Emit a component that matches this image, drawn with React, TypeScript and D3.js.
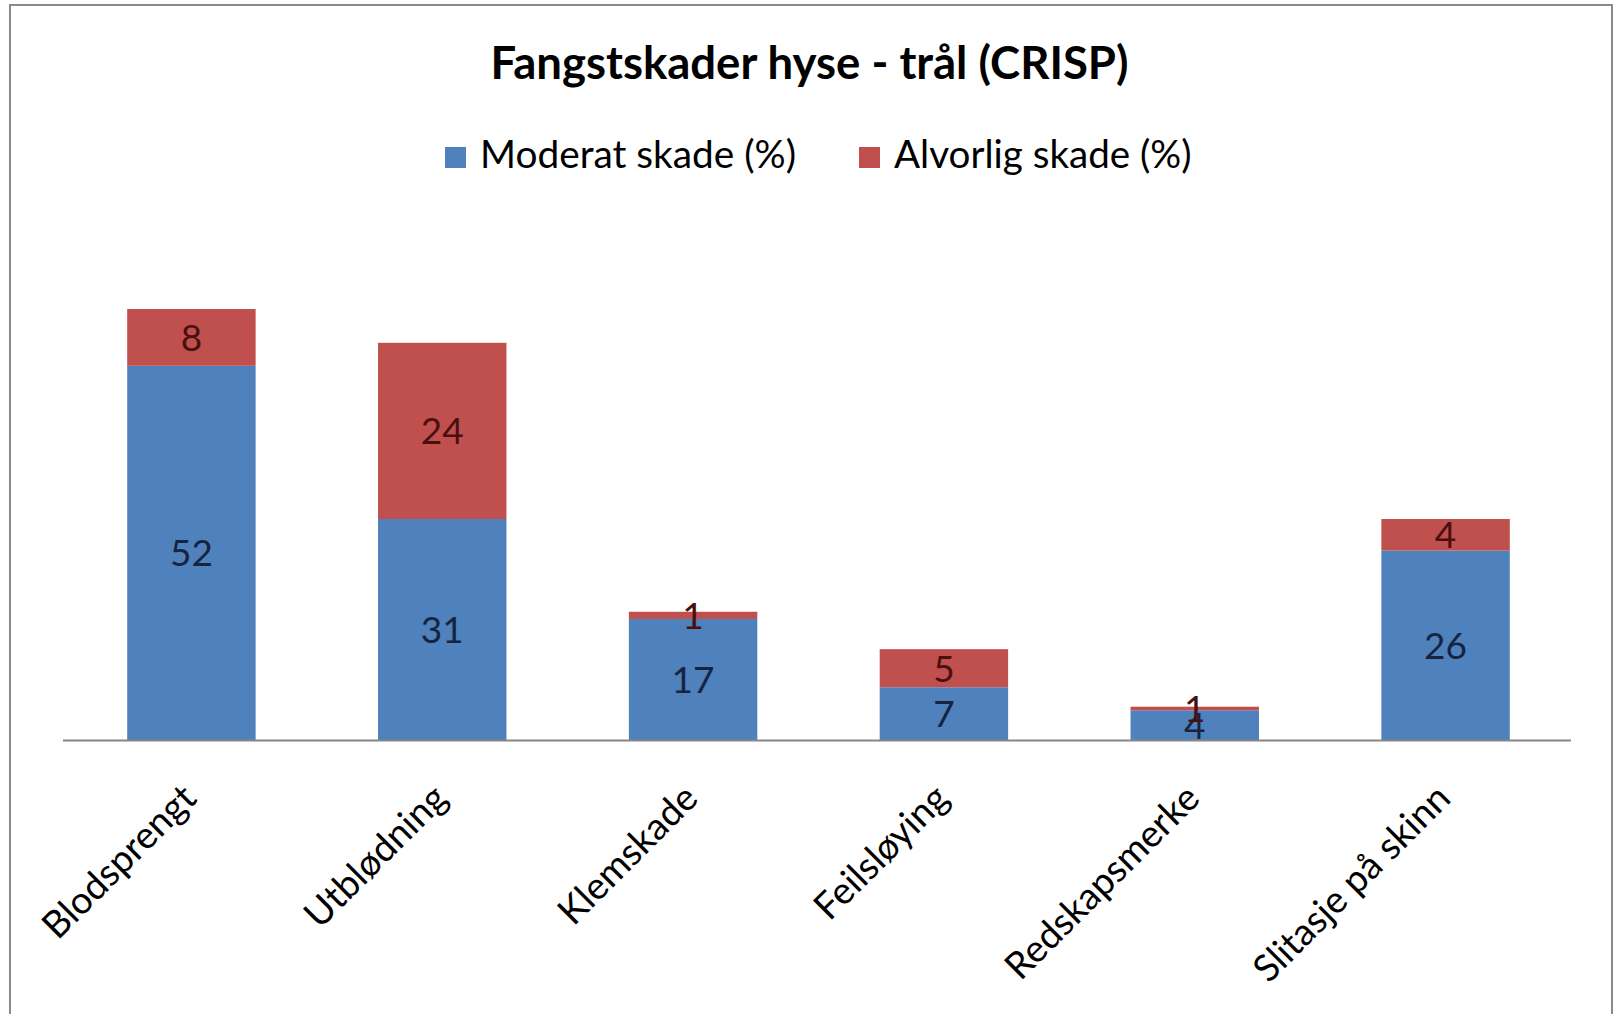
import React from "react";
import * as d3 from "d3";

const categories = ["Blodsprengt", "Utblødning", "Klemskade", "Feilsløying", "Redskapsmerke", "Slitasje på skinn"];
const moderat = [52.1, 30.8, 16.9, 7.4, 4.2, 26.4];
const alvorlig = [7.9, 24.5, 1.0, 5.3, 0.5, 4.4];
const seriesNames = ["Moderat skade (%)", "Alvorlig skade (%)"];
const seriesColors = ["#4F81BD", "#C0504D"];
const labelColors = ["#16243f", "#4a0f10"];
const title = "Fangstskader hyse - trål (CRISP)";

const W = 1615;
const H = 1014;
const FONT = "Lato, 'Open Sans', sans-serif";

export default function App() {
  const y0 = 740.5;
  const x = d3.scaleBand<string>().domain(categories).range([66, 1571]).paddingInner(0.488).paddingOuter(0.244);
  const y = d3.scaleLinear().domain([0, 60]).range([y0, 309]);

  const rows = categories.map((c, i) => ({ c, m: moderat[i], a: alvorlig[i] }));
  const stack = d3.stack<any>().keys(["m", "a"])(rows);

  return (
    <svg width={W} height={H} style={{ position: "absolute", left: 0, top: 0, background: "#fff" }} fontFamily={FONT}>
      <rect x={10} y={5} width={1602} height={1030} fill="#fff" stroke="#8a8a8a" strokeWidth={2} />
      <text x={809.5} y={79} textAnchor="middle" fontSize={45.5} fontWeight="bold" fill="#000">{title}</text>
      {/* legend */}
      <rect x={445} y={147} width={21} height={21} fill={seriesColors[0]} />
      <text x={480} y={168} fontSize={38.8} fill="#000">{seriesNames[0]}</text>
      <rect x={859} y={147} width={21} height={21} fill={seriesColors[1]} />
      <text x={894} y={168} fontSize={38.6} fill="#000">{seriesNames[1]}</text>

      {stack.map((layer, si) => (
        <g key={si}>
          {layer.map((d, i) => (
            <rect key={i} x={x(categories[i])} width={x.bandwidth()} y={y(d[1])} height={y(d[0]) - y(d[1])} fill={seriesColors[si]} />
          ))}
        </g>
      ))}
      <line x1={63} x2={1571} y1={y0} y2={y0} stroke="#868686" strokeWidth={2} />
      {stack.map((layer, si) => (
        <g key={"l" + si}>
          {layer.map((d, i) => (
            <text key={i} x={(x(categories[i]) as number) + x.bandwidth() / 2} y={(y(d[0]) + y(d[1])) / 2} dy="0.36em" textAnchor="middle" fontSize={37} fill={labelColors[si]}>
              {Math.round(d[1] - d[0])}
            </text>
          ))}
        </g>
      ))}
      {categories.map((c, i) => {
        const cx = (x(c) as number) + x.bandwidth() / 2;
        return (
          <text key={c} transform={`translate(${cx + 7},${y0 + 60}) rotate(-45)`} textAnchor="end" fontSize={37.5} fill="#000">{c}</text>
        );
      })}
    </svg>
  );
}
